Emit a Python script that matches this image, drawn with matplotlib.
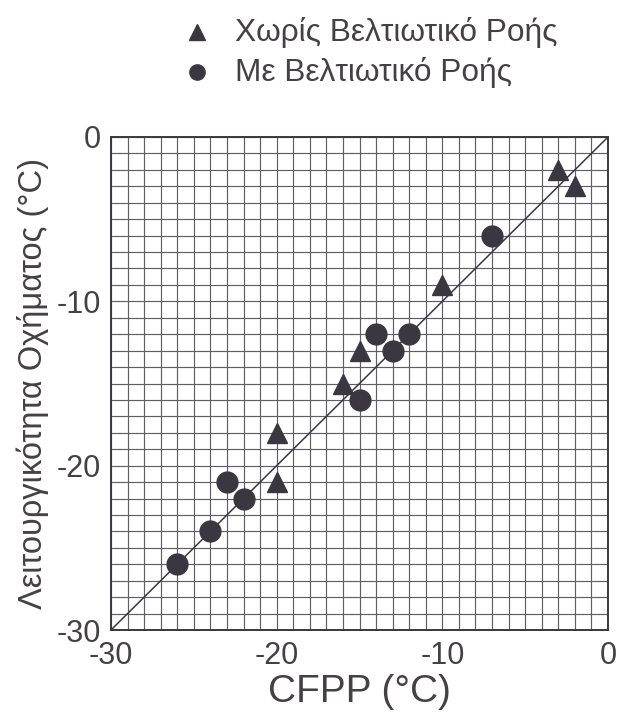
import matplotlib
matplotlib.use("Agg")
import matplotlib.pyplot as plt
from matplotlib.lines import Line2D
import numpy as np

# data (deg C)
without_x = [-3, -2, -10, -15, -16, -20, -20]
without_y = [-2, -3, -9, -13, -15, -18, -21]
with_x = [-7, -14, -12, -13, -15, -23, -22, -24, -26]
with_y = [-6, -12, -12, -13, -16, -21, -22, -24, -26]
ticks = [-30, -20, -10, 0]
labels = ["Χωρίς Βελτιωτικό Ροής", "Με Βελτιωτικό Ροής"]

ink = "#3b3740"
txt = "#444044"
plt.rcParams['font.family'] = ['Liberation Sans', 'DejaVu Sans']
plt.rcParams['axes.unicode_minus'] = False

fig = plt.figure(figsize=(6.18, 7.17), dpi=100)
ax = fig.add_axes([111 / 618, 1 - 630 / 717, 497 / 618, 493 / 717])

ax.set_xlim(-30, 0)
ax.set_ylim(-30, 0)
ax.set_xticks(np.arange(-30, 1, 1), minor=True)
ax.set_yticks(np.arange(-30, 1, 1), minor=True)
ax.set_xticks(ticks)
ax.set_yticks(ticks)
ax.grid(which='both', color='#625e68', linewidth=0.85)
ax.set_axisbelow(True)
ax.tick_params(which='both', length=0, labelsize=22, colors=txt)
ax.tick_params(axis='x', pad=8)
ax.tick_params(axis='y', pad=7)
for s in ax.spines.values():
    s.set_color(ink)
    s.set_linewidth(1.4)

ax.plot([-30, 0], [-30, 0], color=ink, linewidth=1.1, zorder=3)
ax.plot(without_x, without_y, linestyle='none', marker='^', markersize=14,
        color=ink, zorder=4, clip_on=False)
ax.plot(with_x, with_y, linestyle='none', marker='o', markersize=15,
        color=ink, zorder=4, clip_on=False)

ax.set_xlabel("CFPP (°C)", fontsize=28, color=txt, labelpad=2)
ax.set_ylabel("Λειτουργικότητα Οχήματος (°C)", fontsize=23.5, color=txt, labelpad=6)

# legend at the top
fig.add_artist(Line2D([197 / 618], [1 - 32 / 717], marker='^', markersize=11,
                      color=ink, linestyle='none'))
fig.add_artist(Line2D([197 / 618], [1 - 72 / 717], marker='o', markersize=11,
                      color=ink, linestyle='none'))
fig.text(235 / 618, 1 - 32 / 717, labels[0], fontsize=22.8, color=txt, va='center')
fig.text(235 / 618, 1 - 72 / 717, labels[1], fontsize=22.8, color=txt, va='center')

fig.savefig("out.png", dpi=100)
